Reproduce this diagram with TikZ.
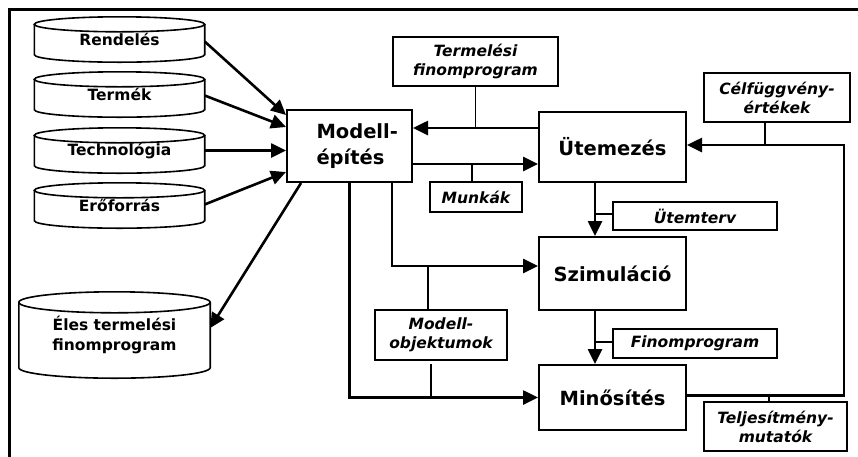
\documentclass[tikz,border=0pt]{standalone}
\usepackage{fontspec}
\setmainfont{DejaVu Sans}
\usetikzlibrary{arrows.meta,calc}
\tikzset{
  box/.style={draw, line width=2pt, fill=white, inner sep=0pt, align=center,
    font=\bfseries\fontsize{19.5}{26}\selectfont},
  lab/.style={draw, line width=1.8pt, fill=white, inner sep=0pt, align=center,
    font=\bfseries\itshape\fontsize{15.5}{19}\selectfont},
  cyl/.style={inner sep=0pt, align=center, font=\bfseries\fontsize{15.5}{20}\selectfont},
  arr/.style={line width=2.6pt, -{Triangle[length=15pt,width=14pt]}},
  conn/.style={line width=1.8pt},
  cylline/.style={line width=1.6pt},
}
\newcommand\drawcyl[2]{%
  \draw[cylline] let \p1=($(#1.east)-(#1.west)$) in
    ([yshift=-#2]#1.north west) -- ([yshift=#2]#1.south west)
    arc[start angle=180,end angle=360,x radius=0.5*\x1,y radius=#2]
    -- ([yshift=-#2]#1.north east);
  \draw[cylline] let \p1=($(#1.east)-(#1.west)$) in
    ([yshift=-#2]#1.north) ellipse[x radius=0.5*\x1,y radius=#2];
}
\begin{document}
\begin{tikzpicture}[x=1pt,y=1pt]
\useasboundingbox (0,0) rectangle (858,-456);
\draw[line width=3pt] (9,-470) -- (9,-9) -- (870,-9);

% cylinders
\node[cyl, minimum width=170, minimum height=45] (R) at (119.5,-39.5) {\raisebox{-3pt}{Rendelés}};
\node[cyl, minimum width=170, minimum height=45] (Te) at (119.5,-94.5) {\raisebox{-3pt}{Termék}};
\node[cyl, minimum width=170, minimum height=45] (Tech) at (119.5,-150.5) {\raisebox{-3pt}{Technológia}};
\node[cyl, minimum width=170, minimum height=45] (Er) at (119.5,-205.5) {\raisebox{-3pt}{Erőforrás}};
\node[cyl, minimum width=191, minimum height=86] (Eles) at (114.5,-335) {Éles termelési\\finomprogram};
\drawcyl{R}{7.5pt}
\drawcyl{Te}{7.5pt}
\drawcyl{Tech}{7.5pt}
\drawcyl{Er}{7.5pt}
\drawcyl{Eles}{10.5pt}

% main boxes
\node[box, minimum width=125, minimum height=72] (Modell) at (349.5,-146)
  {\makebox[66pt][l]{Modell-}\\\makebox[66pt][l]{építés}};
\node[box, minimum width=147, minimum height=70] (Ut) at (612.5,-147) {Ütemezés};
\node[box, minimum width=147, minimum height=73] (Szim) at (612.5,-273.5) {Szimuláció};
\node[box, minimum width=147, minimum height=65] (Min) at (612.5,-397.5) {Minősítés};

% label boxes
\node[lab, minimum width=165, minimum height=49] (TF) at (475.5,-61.5) {Termelési\\finomprogram};
\node[lab, minimum width=92, minimum height=30] (Munk) at (476,-197) {Munkák};
\node[lab, minimum width=146, minimum height=49] (Cel) at (777,-97.5) {Célfüggvény-\\értékek};
\node[lab, minimum width=164, minimum height=28] (Utt) at (695,-216) {Ütemterv};
\node[lab, minimum width=164, minimum height=29] (Fin) at (695,-343.5) {Finomprogram};
\node[lab, minimum width=132, minimum height=50] (MO) at (441,-335) {Modell-\\objektumok};
\node[lab, minimum width=143, minimum height=49] (Telj) at (775.5,-426.5) {Teljesítmény-\\mutatók};

% inputs to Modell
\draw[arr] ([yshift=-2pt]R.east) -- ([yshift=31pt]Modell.west);
\draw[arr] ([yshift=-1pt]Te.east) -- ([yshift=19pt]Modell.west);
\draw[arr] (Tech.east) -- (Tech.east -| Modell.west);
\draw[arr] ([yshift=1pt]Er.east) -- ([yshift=-26pt]Modell.west);
\draw[arr] ([xshift=15pt]Modell.south west) -- ([yshift=7pt]Eles.east);

% Modell <-> Utemezes
\coordinate (c1) at ([yshift=19pt]Ut.west);
\draw[arr] (c1) -- (c1 -| Modell.east);
\draw[conn] (TF.south) -- (TF.south |- c1);
\coordinate (c2) at ([yshift=-18pt]Modell.east);
\draw[arr] (c2) -- (c2 -| Ut.west);
\draw[conn] ([xshift=-4pt]Munk.north) -- ([xshift=-4pt]Munk.north |- c2);

% vertical chain
\coordinate (v1) at ([xshift=-17.5pt]Ut.south);
\draw[arr] (v1) -- ([xshift=-17.5pt]Szim.north);
\draw[conn] ([yshift=2pt]Utt.west) -- ([yshift=2pt]Utt.west -| v1);
\coordinate (v2) at ([xshift=-17.5pt]Szim.south);
\draw[arr] (v2) -- ([xshift=-17.5pt]Min.north);
\draw[conn] ([yshift=1.5pt]Fin.west) -- ([yshift=1.5pt]Fin.west -| v2);

% feedback
\draw[arr] ([yshift=2pt]Min.east) -- ++(157,0) |- ([yshift=2pt]Ut.east);
\draw[conn] ([xshift=-12pt]Cel.south) -- ([xshift=-12pt,yshift=2pt]Cel.south |- Ut.east);
\draw[conn] ([xshift=-6.5pt]Telj.north) -- ([xshift=-6.5pt,yshift=2pt]Telj.north |- Min.east);

% Modell down
\draw[arr] (Modell.south) |- (Min.west);
\coordinate (c3) at ([yshift=7.5pt]Szim.west);
\draw[arr] ([xshift=42.5pt]Modell.south) |- (c3);
\draw[conn] ([xshift=-13pt]MO.north) -- ([xshift=-13pt]MO.north |- c3);
\draw[conn] ([xshift=-10pt,yshift=-3pt]MO.south) -- ([xshift=-10pt]MO.south |- Min.west);
\end{tikzpicture}
\end{document}
